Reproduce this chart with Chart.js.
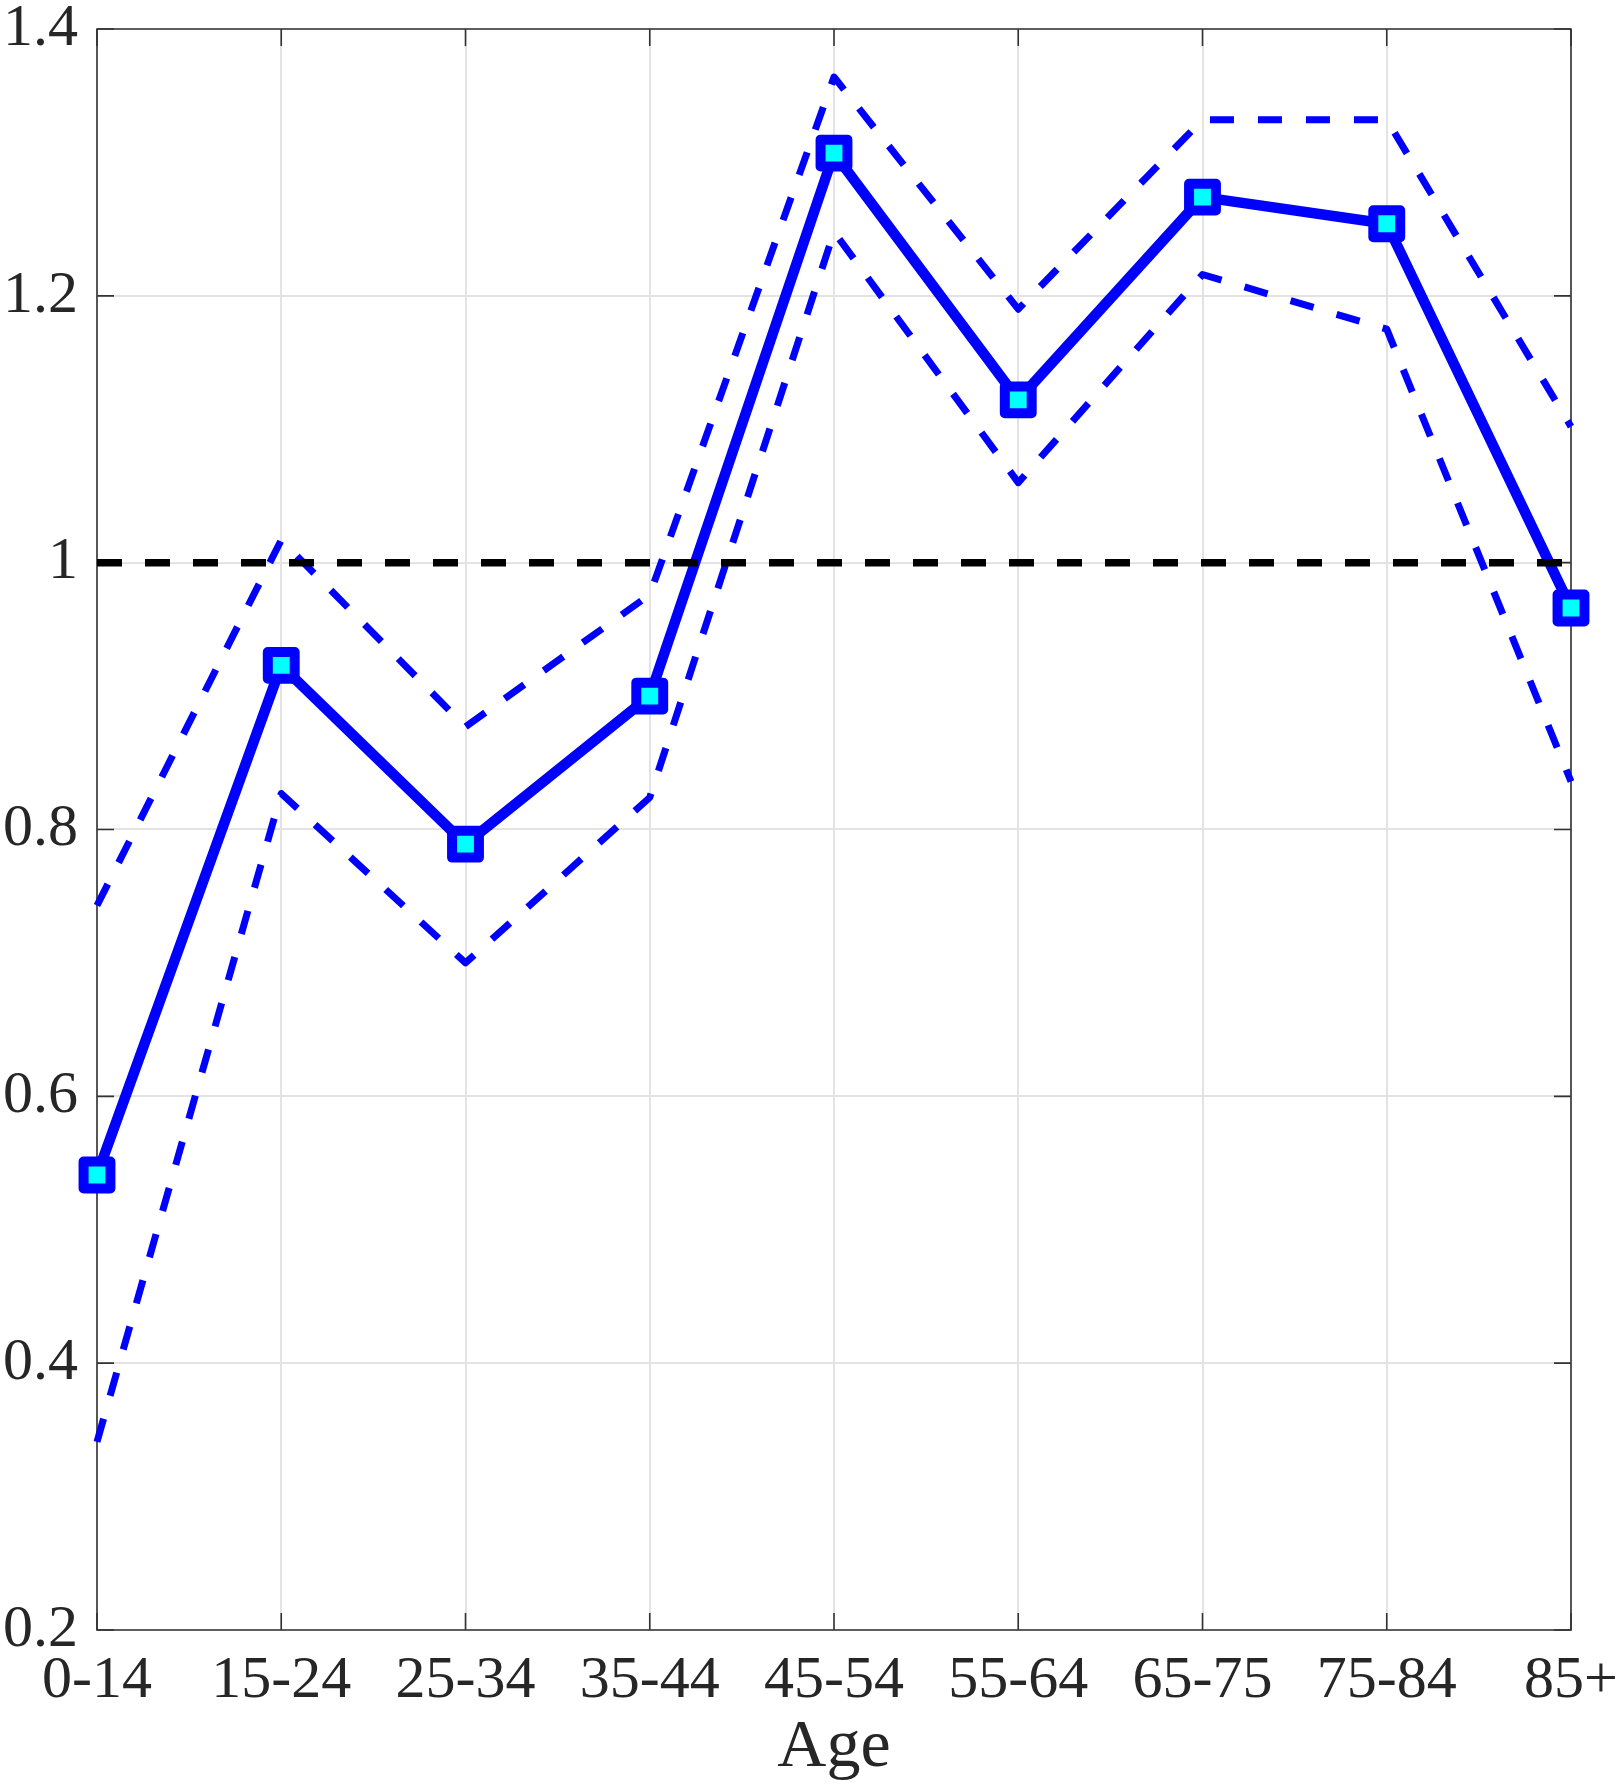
<!DOCTYPE html>
<html>
<head>
<meta charset="utf-8">
<style>
  html, body { margin: 0; padding: 0; background: #ffffff; }
  #wrap { width: 1620px; height: 1791px; }
  canvas { display: block; }
</style>
<script src="https://cdn.jsdelivr.net/npm/chart.js@4.4.1/dist/chart.umd.min.js"></script>
</head>
<body>
<div id="wrap"><canvas id="c" width="1620" height="1791"></canvas></div>
<script>
// ---- data ----
const ageGroups = ['0-14', '15-24', '25-34', '35-44', '45-54', '55-64', '65-75', '75-84', '85+'];
const estimate  = [0.541, 0.923, 0.789, 0.900, 1.307, 1.122, 1.274, 1.254, 0.966];
const upperCI   = [0.743, 1.017, 0.877, 0.976, 1.364, 1.190, 1.332, 1.332, 1.102];
const lowerCI   = [0.341, 0.827, 0.700, 0.824, 1.248, 1.060, 1.216, 1.175, 0.836];
const reference = [1, 1, 1, 1, 1, 1, 1, 1, 1];
const yTicks = [0.2, 0.4, 0.6, 0.8, 1, 1.2, 1.4];
const yTickLabels = ['0.2', '0.4', '0.6', '0.8', '1', '1.2', '1.4'];
const xTitle = 'Age';

// ---- style ----
const AXIS = '#262626';
const FONT = "'Liberation Serif', 'Times New Roman', serif";

const framePlugin = {
  id: 'matlabFrame',
  beforeDatasetsDraw(chart) {
    const ctx = chart.ctx;
    const a = chart.chartArea;
    const xs = chart.scales.x, ys = chart.scales.y;
    const tl = 17;
    ctx.save();
    ctx.strokeStyle = '#333333';
    ctx.lineWidth = 1.6;
    ctx.lineCap = 'butt';
    ctx.beginPath();
    ctx.rect(a.left, a.top, a.right - a.left, a.bottom - a.top);
    ctx.stroke();
    ctx.beginPath();
    xs.ticks.forEach((t, i) => {
      const px = xs.getPixelForTick(i);
      ctx.moveTo(px, a.bottom); ctx.lineTo(px, a.bottom - tl);
      ctx.moveTo(px, a.top); ctx.lineTo(px, a.top + tl);
    });
    ys.ticks.forEach((t) => {
      const py = ys.getPixelForValue(t.value);
      ctx.moveTo(a.left, py); ctx.lineTo(a.left + tl, py);
      ctx.moveTo(a.right, py); ctx.lineTo(a.right - tl, py);
    });
    ctx.stroke();
    ctx.restore();
    ctx.lineJoin = 'round';
  },
  beforeDatasetDraw(chart) {
    chart.ctx.lineJoin = 'round';
  }
};

new Chart(document.getElementById('c'), {
  type: 'line',
  data: {
    labels: ageGroups,
    datasets: [
      {
        label: 'reference',
        data: reference,
        borderColor: '#000000',
        borderWidth: 7.5,
        borderDash: [25, 23],
        borderCapStyle: 'butt',
        pointRadius: 0,
        order: 0,
        clip: false
      },
      {
        label: 'estimate',
        data: estimate,
        borderColor: '#0000ff',
        borderWidth: 10.5,
        borderJoinStyle: 'round',
        pointStyle: 'rect',
        pointRadius: 19,
        pointBorderWidth: 10,
        pointBorderColor: '#0000ff',
        pointBackgroundColor: '#00ffff',
        order: 1,
        clip: false
      },
      {
        label: 'upper',
        data: upperCI,
        borderColor: '#0000ff',
        borderWidth: 7,
        borderDash: [24, 24],
        borderCapStyle: 'butt',
        borderJoinStyle: 'round',
        pointRadius: 0,
        order: 2,
        clip: false
      },
      {
        label: 'lower',
        data: lowerCI,
        borderColor: '#0000ff',
        borderWidth: 7,
        borderDash: [24, 24],
        borderCapStyle: 'butt',
        borderJoinStyle: 'round',
        pointRadius: 0,
        order: 3,
        clip: false
      }
    ]
  },
  options: {
    responsive: false,
    devicePixelRatio: 1,
    animation: false,
    events: [],
    layout: { padding: { left: 0, right: 49, top: 27, bottom: 0 } },
    plugins: { legend: { display: false }, tooltip: { enabled: false } },
    scales: {
      x: {
        type: 'category',
        offset: false,
        grid: { display: true, color: '#e3e3e3', lineWidth: 2, drawTicks: false, offset: false },
        border: { display: false },
        ticks: {
          color: AXIS,
          font: { family: FONT, size: 60 },
          padding: 15,
          maxRotation: 0,
          minRotation: 0,
          autoSkip: false
        },
        title: {
          display: true,
          text: xTitle,
          color: AXIS,
          font: { family: FONT, size: 68 },
          padding: { top: 0, bottom: 2 }
        },
        afterFit(scale) {
          scale.height = 161;
          scale.paddingLeft = 0; scale.paddingRight = 0;
          scale.paddingTop = 0; scale.paddingBottom = 0;
        }
      },
      y: {
        type: 'linear',
        min: 0.2,
        max: 1.4,
        grid: { display: true, color: '#e3e3e3', lineWidth: 2, drawTicks: false },
        border: { display: false },
        afterBuildTicks(scale) {
          scale.ticks = yTicks.map(v => ({ value: v }));
        },
        ticks: {
          color: AXIS,
          font: { family: FONT, size: 60 },
          padding: 19,
          callback(value) {
            const i = yTicks.findIndex(t => Math.abs(t - value) < 1e-9);
            return i >= 0 ? yTickLabels[i] : '';
          }
        },
        afterFit(scale) {
          scale.width = 97;
          scale.paddingLeft = 0; scale.paddingRight = 0;
          scale.paddingTop = 0; scale.paddingBottom = 0;
        }
      }
    }
  },
  plugins: [framePlugin]
});
</script>
</body>
</html>
